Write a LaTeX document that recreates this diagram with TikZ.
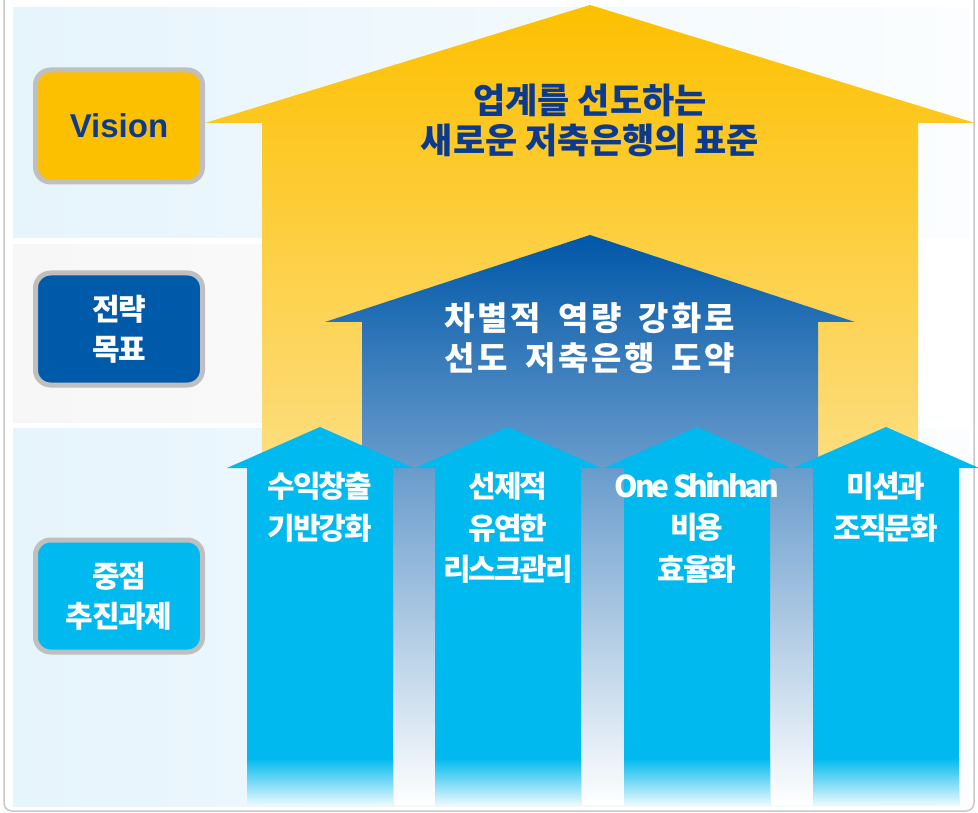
\documentclass[tikz,border=0pt]{standalone}
\usepackage{fontspec}
\setmainfont{Noto Sans CJK KR}[BoldFont={Noto Sans CJK KR Black}]
\newfontfamily\visionfont{Liberation Sans}
\usetikzlibrary{positioning}
\definecolor{shyellow}{HTML}{FDC000}
\definecolor{shpale}{HTML}{FDE6A4}
\definecolor{shblue}{HTML}{0057A8}
\definecolor{shmid}{HTML}{7AA6D2}
\definecolor{shdark}{HTML}{005AAA}
\definecolor{shcyan}{HTML}{00B9EE}
\definecolor{shnavy}{HTML}{0B3A8E}
\definecolor{shsky}{HTML}{E6F4FC}
\definecolor{shgray}{HTML}{F7F7F7}
\definecolor{shframe}{HTML}{C8C8C8}
\definecolor{shborder}{HTML}{BFBFBF}
\newcommand\wgap{\hspace{17pt}}

\begin{document}
\begin{tikzpicture}[x=1pt,y=-1pt,every node/.style={align=center,inner sep=0pt},
    sidebox/.style={draw=shborder,line width=5pt,rounded corners=15pt,minimum width=167pt,minimum height=112pt,font=\fontsize{30}{40}\selectfont\bfseries\addfontfeatures{LetterSpace=-4}},
    tasktext/.style={text=white,anchor=north,font=\fontsize{30}{41.5}\selectfont\bfseries\addfontfeatures{LetterSpace=-7}}]
    \useasboundingbox (0,0) rectangle (978,813);
    % frame and bands
    \draw[shframe,line width=1.5pt,rounded corners=8pt] (4,-20) rectangle (974,811);
    \shade[left color=shsky,right color=shsky!15!white] (13,8) rectangle (970,238);
    \shade[left color=shgray,right color=white] (13,245) rectangle (970,422);
    \shade[left color=shsky,right color=shsky!15!white] (13,428) rectangle (970,806);
    % vision and goal arrows
    \shade[top color=shyellow,bottom color=shpale] (590,5) -- (975,123) -- (918,123) -- (918,600) -- (262,600) -- (262,123) -- (205,123) -- cycle;
    \shade[top color=shblue,middle color=shmid,bottom color=white] (590,235) -- (855,322) -- (818,322) -- (818,805) -- (362,805) -- (362,322) -- (325,322) -- cycle;
    % task arrows
    \foreach \cx in {320,508,697,886} {
      \fill[shcyan] (\cx,427) -- (\cx+93,468) -- (\cx+73,468) -- (\cx+73,805) -- (\cx-73,805) -- (\cx-73,468) -- (\cx-93,468) -- cycle;
      \shade[top color=shcyan,bottom color=shcyan!8!white] (\cx-73,758) rectangle (\cx+73,805);
    }
    \node[text=shnavy,font=\fontsize{35}{40}\selectfont\bfseries] (vtext) at (590,120) {업계를 선도하는\\새로운 저축은행의 표준};
    \node[text=white,font=\fontsize{33}{40}\selectfont\bfseries\addfontfeatures{LetterSpace=8}] (gtext) at (590,338) {차별적\wgap 역량\wgap 강화로\\선도\wgap 저축은행\wgap 도약};
    \node[tasktext] (t1) at (320,472) {수익창출\\기반강화};
    \node[tasktext] (t2) at (508,472) {선제적\\유연한\\리스크관리};
    \node[tasktext] (t3) at (697,472) {{\addfontfeatures{LetterSpace=-11}One Shinhan}\\비용\\효율화};
    \node[tasktext] (t4) at (886,472) {미션과\\조직문화};
    % side labels
    \node[sidebox,fill=shyellow,text=shnavy,font=\visionfont\fontsize{33}{34}\selectfont\bfseries] (vision) at (119,126) {Vision};
    \node[sidebox,fill=shdark,text=white,below=86pt of vision] (goal) {전략\\목표};
    \node[sidebox,fill=shcyan,text=white,below=150pt of goal] (task) {중점\\추진과제};
\end{tikzpicture}
\end{document}
